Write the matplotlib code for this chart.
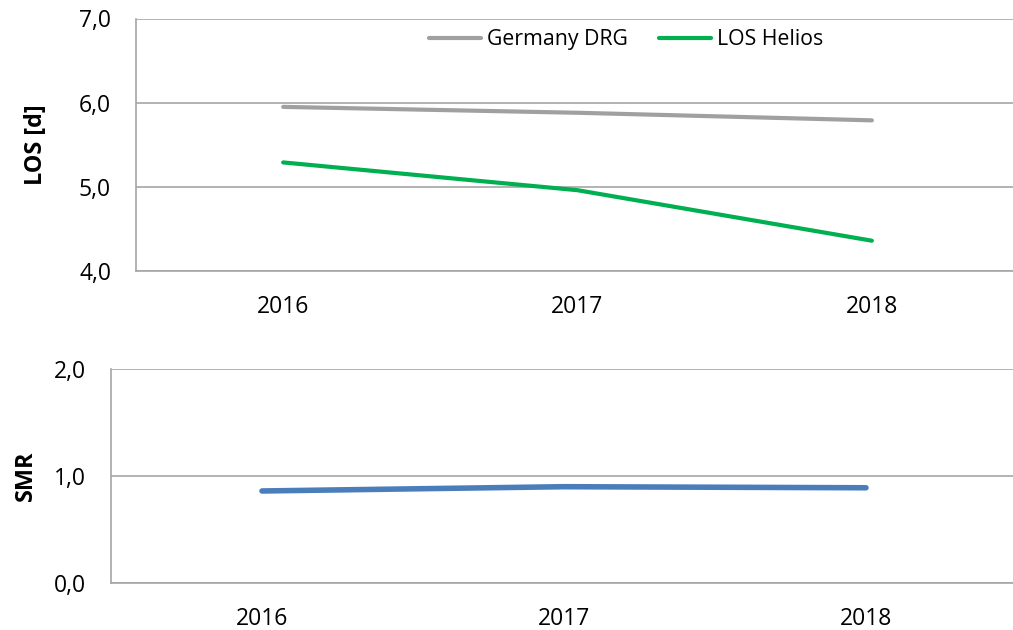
import matplotlib.pyplot as plt
import numpy as np

plt.rcParams['font.family'] = ['Open Sans', 'DejaVu Sans']

years = ['2016', '2017', '2018']
los_germany = [5.95, 5.88, 5.79]
los_helios = [5.29, 4.96, 4.36]
smr = [0.86, 0.90, 0.89]

W, H = 1013, 630
fig = plt.figure(figsize=(W/100, H/100), dpi=100)

grid_c = '#A6A6A6'
fs = 16.5

def px_axes(left, top, right, bottom):
    return fig.add_axes([left/W, 1-bottom/H, (right-left)/W, (bottom-top)/H])

x = np.arange(len(years))

# top chart : LOS
ax1 = px_axes(136, 18.5, 1019, 271)
ax1.plot(x, los_germany, color='#A0A0A0', lw=3, solid_capstyle='round', label='Germany DRG')
ax1.plot(x, los_helios, color='#00B050', lw=3, solid_capstyle='round', label='LOS Helios')
ax1.set_ylim(4, 7)
ax1.set_yticks([4, 5, 6, 7])
ax1.set_yticklabels(['4,0', '5,0', '6,0', '7,0'])
ax1.set_ylabel('LOS [d]', fontsize=16.8, fontweight='bold')
ax1.yaxis.set_label_coords(-0.0997, 0.5)
leg = ax1.legend(loc='center', bbox_to_anchor=(0.555, 0.915), ncol=2, frameon=False,
                 fontsize=15.3, handlelength=2.45, handletextpad=0.25, columnspacing=1.5,
                 borderpad=0)

# bottom chart : SMR
ax2 = px_axes(111, 369, 1017, 583)
ax2.plot(x, smr, color='#4A7EBB', lw=4, solid_capstyle='round')
ax2.set_ylim(0, 2)
ax2.set_yticks([0, 1, 2])
ax2.set_yticklabels(['0,0', '1,0', '2,0'])
ax2.set_ylabel('SMR', fontsize=16.8, fontweight='bold')
ax2.yaxis.set_label_coords(-0.0806, 0.5)

for ax in (ax1, ax2):
    ax.set_xlim(-0.5, 2.5)
    ax.set_xticks(x)
    ax.set_xticklabels(years)
    ax.tick_params(length=0, labelsize=fs)
    ax.tick_params(axis='x', pad=17)
    ax.tick_params(axis='y', pad=18)
    ax.grid(axis='y', color=grid_c, lw=1.2)
    ax.set_axisbelow(True)
    for s in ['top', 'right']:
        ax.spines[s].set_visible(False)
    for s in ['left', 'bottom']:
        ax.spines[s].set_color(grid_c)
        ax.spines[s].set_linewidth(1.2)

plt.savefig('out.png', dpi=100)
